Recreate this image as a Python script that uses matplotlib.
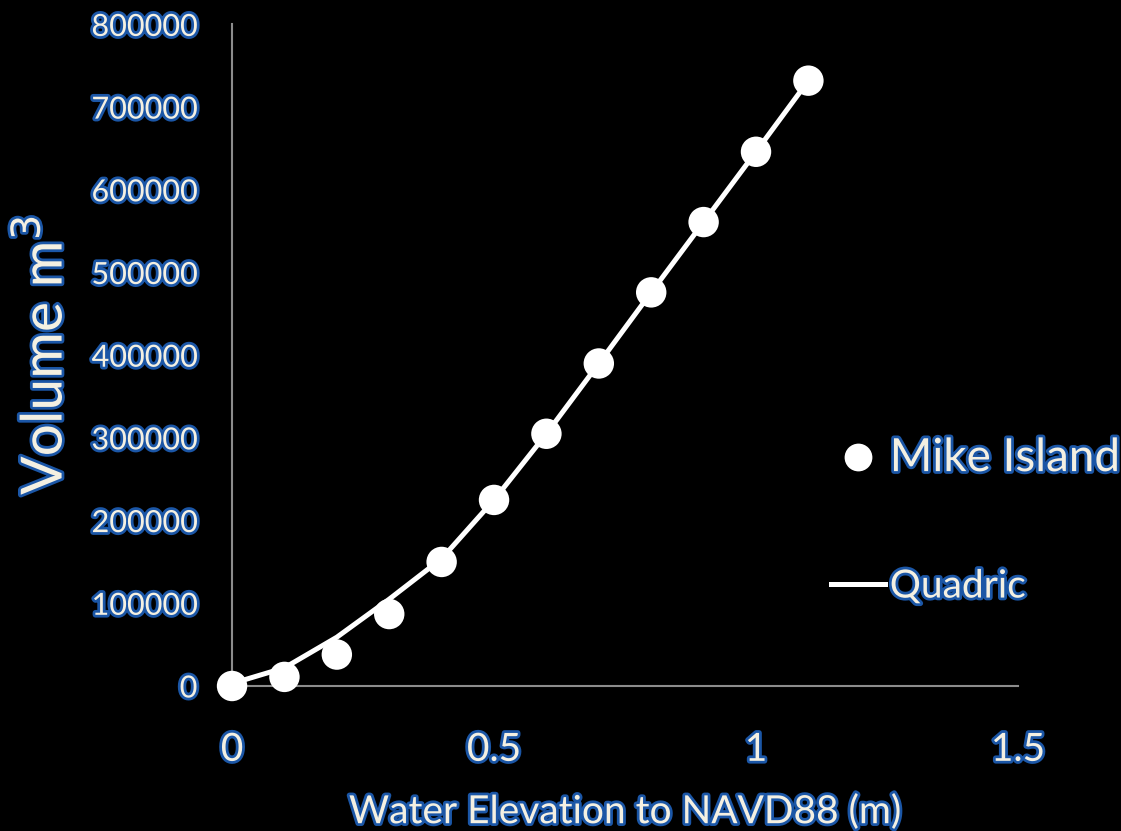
import matplotlib
matplotlib.use("Agg")
import matplotlib.pyplot as plt
import matplotlib.patheffects as pe
from matplotlib.lines import Line2D

# Stage–volume data for Mike Island
elevation = [0.0, 0.1, 0.2, 0.3, 0.4, 0.5, 0.6, 0.7, 0.8, 0.9, 1.0, 1.1]
volume = [0, 11000, 38000, 87000, 150000, 225000, 305000, 390000, 476000, 561000, 646000, 732000]
quadric = [3000, 22000, 59000, 105000, 154000, 225000, 305000, 390000, 476000, 561000, 646000, 732000]

x_ticks = [0, 0.5, 1, 1.5]
x_tick_labels = ["0", "0.5", "1", "1.5"]
y_ticks = [0, 100000, 200000, 300000, 400000, 500000, 600000, 700000, 800000]

FILL = "#F4F0E2"
EDGE = "#1B56A6"
outline = [pe.withStroke(linewidth=4, foreground=EDGE)]

plt.rcParams["font.family"] = ["Lato", "DejaVu Sans"]

fig = plt.figure(figsize=(11.21, 8.31), dpi=100, facecolor="black")
ax = fig.add_axes([0.2070, 0.1745, 0.7011, 0.7961], facecolor="black")

ax.plot(elevation, quadric, color="white", lw=3.6, solid_capstyle="round",
        zorder=3, clip_on=False)
ax.scatter(elevation, volume, s=480, color="white", edgecolors="none",
           zorder=4, clip_on=False)

ax.set_xlim(0, 1.5)
ax.set_ylim(0, 800000)
ax.set_xticks(x_ticks)
ax.set_xticklabels(x_tick_labels)
ax.set_yticks(y_ticks)
ax.set_yticklabels([str(v) for v in y_ticks])

for side in ("top", "right"):
    ax.spines[side].set_visible(False)
for side in ("left", "bottom"):
    ax.spines[side].set_color("#8C8C8C")
    ax.spines[side].set_linewidth(1.5)

ax.tick_params(axis="both", length=0)
ax.tick_params(axis="x", pad=33)
ax.tick_params(axis="y", pad=25)
for lbl in ax.get_xticklabels():
    lbl.set_fontsize(28)
    lbl.set_color(FILL)
    lbl.set_path_effects(outline)
for lbl in ax.get_yticklabels():
    lbl.set_fontsize(22)
    lbl.set_color(FILL)
    lbl.set_path_effects(outline)

ax.set_xlabel("Water Elevation to NAVD88 (m)", fontsize=28,
              color=FILL, labelpad=19, path_effects=outline)
ax.set_ylabel("Volume m$^3$", fontsize=41,
              color=FILL, labelpad=14, path_effects=outline)

handles = [
    Line2D([], [], linestyle="none", marker="o", markersize=20,
           markerfacecolor="white", markeredgecolor="none"),
    Line2D([], [], color="white", lw=3.6),
]
leg = fig.legend(handles, ["Mike Island", "Quadric"], loc="upper left",
                 bbox_to_anchor=(0.741, 0.474), frameon=False,
                 handlelength=1.39, handletextpad=0.13, labelspacing=2.3,
                 fontsize=28, borderaxespad=0, borderpad=0)
for txt, size in zip(leg.get_texts(), (33, 28)):
    txt.set_color(FILL)
    txt.set_fontsize(size)
    txt.set_path_effects(outline)

fig.savefig("out.png", dpi=100, facecolor="black")
